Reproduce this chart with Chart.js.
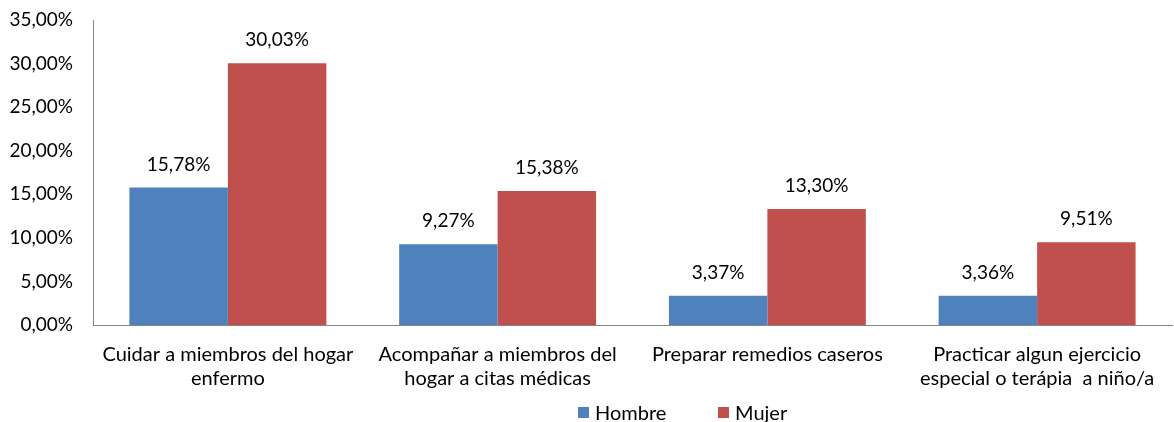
<!DOCTYPE html>
<html><head><meta charset="utf-8">
<script src="https://cdn.jsdelivr.net/npm/chart.js@4/dist/chart.umd.min.js"></script>
<style>html,body{margin:0;padding:0;background:#fff}#wrap{width:1174px;height:422px}</style>
</head><body><div id="wrap"><canvas id="c" width="1174" height="422"></canvas></div>
<script>
const categories = [
  ["Cuidar a miembros del hogar", "enfermo"],
  ["Acompañar a miembros del", "hogar a citas médicas"],
  ["Preparar remedios caseros"],
  ["Practicar algun ejercicio", "especial o terápia  a niño/a"]
];
const hombre = [15.78, 9.27, 3.37, 3.36];
const mujer = [30.03, 15.38, 13.30, 9.51];
const seriesNames = ["Hombre", "Mujer"];
const yTicks = [0, 5, 10, 15, 20, 25, 30, 35];

const FONT = "Lato, 'Liberation Sans', sans-serif";
const fmt = v => v.toFixed(2).replace('.', ',') + '%';

const labelPlugin = {
  id: 'valueLabels',
  afterDatasetsDraw(chart) {
    const ctx = chart.ctx;
    ctx.save();
    ctx.font = "19px " + FONT;
    ctx.fillStyle = "#000";
    ctx.textAlign = "center";
    ctx.textBaseline = "middle";
    chart.data.datasets.forEach((ds, i) => {
      chart.getDatasetMeta(i).data.forEach((bar, j) => {
        ctx.fillText(fmt(ds.data[j]), bar.x, bar.y - 23);
      });
    });
    ctx.restore();
  }
};

const legendPlugin = {
  id: 'customLegend',
  afterDraw(chart) {
    const ctx = chart.ctx;
    ctx.save();
    ctx.font = "20px " + FONT;
    ctx.textBaseline = "middle";
    ctx.textAlign = "left";
    const y = 413;
    const starts = [578, 718];
    chart.data.datasets.forEach((ds, i) => {
      const x = starts[i];
      ctx.fillStyle = ds.backgroundColor;
      ctx.fillRect(x, y - 6, 11, 11);
      ctx.fillStyle = "#000";
      ctx.fillText(ds.label, x + 17, y + 1);
    });
    ctx.restore();
  }
};

new Chart(document.getElementById('c'), {
  type: 'bar',
  data: {
    labels: categories,
    datasets: [
      { label: seriesNames[0], data: hombre, backgroundColor: '#4F81BD' },
      { label: seriesNames[1], data: mujer, backgroundColor: '#C0504D' }
    ]
  },
  options: {
    responsive: false,
    animation: false,
    layout: { padding: { top: 20, right: 2, left: 0, bottom: 0 } },
    plugins: { legend: { display: false }, tooltip: { enabled: false } },
    datasets: { bar: { categoryPercentage: 0.73, barPercentage: 1.0 } },
    scales: {
      x: {
        grid: { display: false, drawTicks: false },
        border: { color: '#868686', width: 1 },
        ticks: { font: { family: FONT, size: 20, lineHeight: 1.2 }, color: '#000', padding: 18, maxRotation: 0, autoSkip: false },
        afterFit(s) { s.height = 97; s.paddingLeft = 0; s.paddingRight = 0; }
      },
      y: {
        min: 0, max: 35,
        grid: { display: false, drawTicks: false },
        border: { color: '#868686', width: 1 },
        afterBuildTicks(s) { s.ticks = yTicks.map(v => ({ value: v })); },
        ticks: { font: { family: FONT, size: 19 }, color: '#000', padding: 20, callback: v => fmt(v) },
        afterFit(s) { s.width = 93; s.paddingTop = 0; s.paddingBottom = 0; }
      }
    }
  },
  plugins: [labelPlugin, legendPlugin]
});
</script>
</body></html>
